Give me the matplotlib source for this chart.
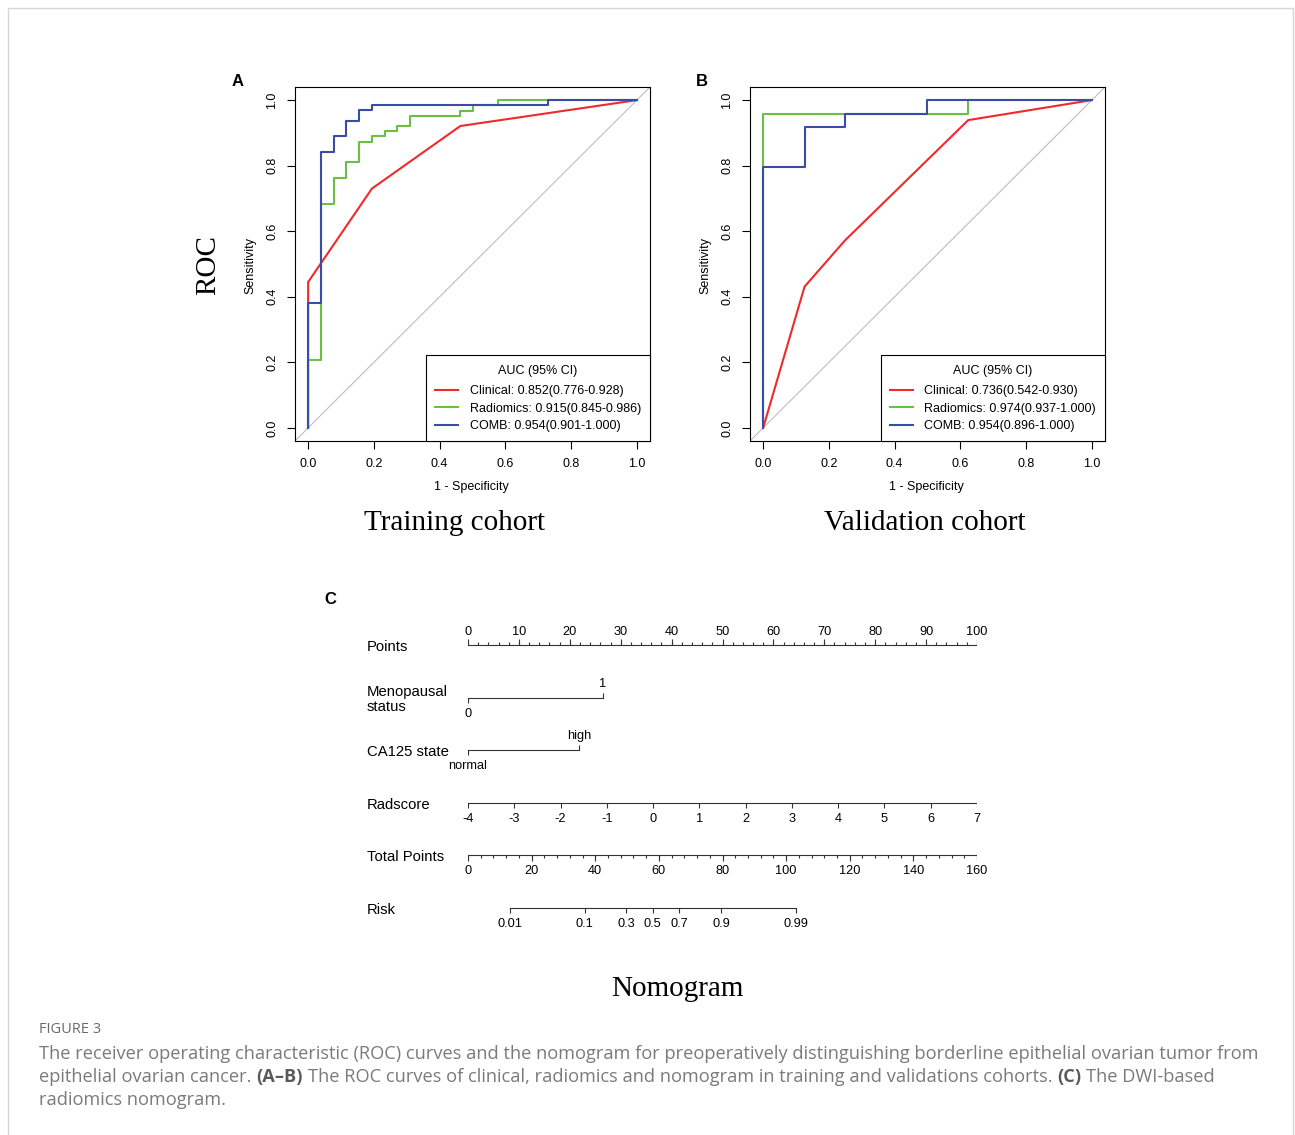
import matplotlib
matplotlib.use("Agg")
import matplotlib.pyplot as plt
import numpy as np
from matplotlib import transforms
from matplotlib.lines import Line2D
from matplotlib.patches import Rectangle

W, H = 1295, 1135
SANS = "Liberation Sans"
SERIF = "Liberation Serif"
CAP = "Open Sans"

# ── ROC data: 1 - specificity breakpoints and sensitivity levels ─────────────
train_clin_fpr = [0.0, 0.0, 0.194, 0.463, 1.0]
train_clin_tpr = [0.0, 0.445, 0.730, 0.921, 1.0]
train_rad_fpr = [0.0, 0.039, 0.078, 0.116, 0.155, 0.194, 0.233, 0.270, 0.309, 0.463, 0.501, 0.577, 1.0]
train_rad_tpr = [0.0, 0.207, 0.684, 0.761, 0.810, 0.872, 0.889, 0.905, 0.921, 0.952, 0.968, 0.984, 1.0]
train_comb_fpr = [0.0, 0.039, 0.078, 0.116, 0.155, 0.194, 0.731, 1.0]
train_comb_tpr = [0.0, 0.380, 0.841, 0.889, 0.937, 0.969, 0.984, 1.0]

val_clin_fpr = [0.0, 0.126, 0.249, 0.624, 1.0]
val_clin_tpr = [0.0, 0.431, 0.572, 0.939, 1.0]
val_rad_fpr = [0.0, 0.624, 1.0]
val_rad_tpr = [0.0, 0.958, 1.0]
val_comb_fpr = [0.0, 0.126, 0.249, 0.500, 1.0]
val_comb_tpr = [0.0, 0.797, 0.918, 0.958, 1.0]

train_auc = ["Clinical: 0.852(0.776-0.928)", "Radiomics: 0.915(0.845-0.986)",
             "COMB: 0.954(0.901-1.000)"]
val_auc = ["Clinical: 0.736(0.542-0.930)", "Radiomics: 0.974(0.937-1.000)",
           "COMB: 0.954(0.896-1.000)"]
roc_ticks = [0.0, 0.2, 0.4, 0.6, 0.8, 1.0]

# ── nomogram data ────────────────────────────────────────────────────────────
points_major = list(range(0, 101, 10))
points_minor = list(range(0, 101, 2))
meno_labels = ["0", "1"]
meno_points = [0.0, 26.5]
ca125_labels = ["normal", "high"]
ca125_points = [0.0, 21.8]
radscore_values = list(range(-4, 8))
total_major = list(range(0, 161, 20))
total_minor = list(range(0, 161, 4))
total_max = 160
risk_values = [0.01, 0.1, 0.3, 0.5, 0.7, 0.9, 0.99]
risk_tp50 = 58.1      # total points where risk = 0.5
risk_slope = 0.1023   # logit per total point

RED, GREEN, BLUE = "#f02a2a", "#6cbf45", "#3a4ca6"
INK = "#333333"

fig = plt.figure(figsize=(W / 100, H / 100), dpi=100)
fig.patch.set_facecolor("white")


def fx(px):
    return px / W


def fy(py):
    return 1 - py / H


# outer frame of the figure page
fig.add_artist(Rectangle((fx(8), fy(H + 20)), fx(1293 - 8), (H + 20 - 8) / H,
                         transform=fig.transFigure, fill=False,
                         edgecolor="#d6d6d6", lw=1.0))


# ── ROC panels ───────────────────────────────────────────────────────────────
def roc_panel(left_px, curves, labels, letter, letter_x, title, title_x, roc_label):
    ax = fig.add_axes([fx(left_px), fy(441), fx(355), 354 / H])
    ax.axline((0, 0), (1, 1), color="#bdbdbd", lw=0.8, zorder=1)
    for (xs, ys, col, style) in curves:
        ax.plot(xs, ys, color=col, lw=1.5, drawstyle=style, zorder=2)
    ax.set_xlim(-0.04, 1.04)
    ax.set_ylim(-0.04, 1.04)
    ax.set_xticks(roc_ticks)
    ax.set_yticks(roc_ticks)
    ax.set_xticklabels([f"{t:.1f}" for t in roc_ticks], fontfamily=SANS)
    ax.set_yticklabels([f"{t:.1f}" for t in roc_ticks], fontfamily=SANS,
                       rotation=90, va="center")
    ax.tick_params(direction="out", length=5.5, width=0.8, labelsize=9, pad=6.5)
    for sp in ax.spines.values():
        sp.set_linewidth(0.8)
    handles = [Line2D([], [], color=c, lw=1.5) for c in (RED, GREEN, BLUE)]
    leg = ax.legend(handles, labels, title="AUC (95% CI)", loc="lower right",
                    borderaxespad=0, fancybox=False, edgecolor="black",
                    framealpha=1, prop={"family": SANS, "size": 9},
                    handlelength=1.85, handletextpad=0.9, borderpad=0.73,
                    labelspacing=0.42)
    leg.get_title().set_fontfamily(SANS)
    leg.get_title().set_fontsize(9)
    leg.get_frame().set_linewidth(0.8)
    leg._legend_box.sep = 0.42 * 9 + 2.6   # a little more room under the title
    centre = left_px + 355 / 2
    fig.text(fx(centre - 1), fy(487), "1 - Specificity", ha="center", va="center",
             fontfamily=SANS, fontsize=9)
    fig.text(fx(left_px - 45), fy(265), "Sensitivity", ha="center", va="center",
             rotation=90, fontfamily=SANS, fontsize=9)
    fig.text(fx(letter_x), fy(82), letter, ha="center", va="center",
             fontfamily=SANS, fontweight="bold", fontsize=12)
    fig.text(fx(title_x), fy(523), title, ha="center", va="center",
             fontfamily=SERIF, fontsize=21)
    if roc_label:
        fig.text(fx(208), fy(265), "ROC", ha="center", va="center", rotation=90,
                 fontfamily=SERIF, fontsize=21)
    return ax


roc_panel(295,
          [(train_clin_fpr, train_clin_tpr, RED, "default"),
           (train_rad_fpr, train_rad_tpr, GREEN, "steps-pre"),
           (train_comb_fpr, train_comb_tpr, BLUE, "steps-pre")],
          train_auc, "A", 238, "Training cohort", 455, True)
roc_panel(750,
          [(val_clin_fpr, val_clin_tpr, RED, "default"),
           (val_rad_fpr, val_rad_tpr, GREEN, "steps-pre"),
           (val_comb_fpr, val_comb_tpr, BLUE, "steps-pre")],
          val_auc, "B", 702, "Validation cohort", 925, False)

# ── nomogram ─────────────────────────────────────────────────────────────────
ROW_PX = 52.6
top_px, bot_px = 645 - ROW_PX / 2, 908 + ROW_PX / 2
axn = fig.add_axes([fx(468), fy(bot_px), fx(977 - 468), (bot_px - top_px) / H])
axn.set_xlim(0, 100)
axn.set_ylim(5.5, -0.5)
axn.axis("off")


def r(px):
    return px / ROW_PX


lw = 0.8
lab = dict(fontfamily=SANS, fontsize=9.2, ha="center", va="center")
name_tr = transforms.blended_transform_factory(fig.transFigure, axn.transData)
names = ["Points", "Menopausal\nstatus", "CA125 state", "Radscore", "Total Points", "Risk"]
for i, nm in enumerate(names):
    axn.text(fx(367), i + r(2), nm, transform=name_tr,
             ha="left", va="center", fontfamily=SANS, fontsize=10.7, linespacing=1.15,
             clip_on=False)

# Points
axn.plot([0, 100], [0, 0], color=INK, lw=lw)
axn.vlines(points_minor, 0, -r(3), color=INK, lw=lw)
axn.vlines(points_major, 0, -r(6), color=INK, lw=lw)
for v in points_major:
    axn.text(v, -r(13), str(v), **lab)

# categorical rows
for row, pts, labels in [(1, meno_points, meno_labels), (2, ca125_points, ca125_labels)]:
    axn.plot(pts, [row, row], color=INK, lw=lw)
    axn.vlines(pts[0], row, row + r(5), color=INK, lw=lw)
    axn.vlines(pts[1], row, row - r(5), color=INK, lw=lw)
    axn.text(pts[0], row + r(16), labels[0], **lab)
    axn.text(pts[1], row - r(14), labels[1], **lab)

# Radscore
rad = np.array(radscore_values, dtype=float)
rad_pts = (rad - rad.min()) / (rad.max() - rad.min()) * 100
axn.plot([rad_pts[0], rad_pts[-1]], [3, 3], color=INK, lw=lw)
axn.vlines(rad_pts, 3, 3 + r(5), color=INK, lw=lw)
for v, p in zip(radscore_values, rad_pts):
    axn.text(p, 3 + r(16), str(v), **lab)

# Total points
tot_scale = 100 / total_max
axn.plot([0, 100], [4, 4], color=INK, lw=lw)
axn.vlines(np.array(total_minor) * tot_scale, 4, 4 + r(3), color=INK, lw=lw)
axn.vlines(np.array(total_major) * tot_scale, 4, 4 + r(6), color=INK, lw=lw)
for v in total_major:
    axn.text(v * tot_scale, 4 + r(16), str(v), **lab)

# Risk
rv = np.array(risk_values)
risk_tp = risk_tp50 + np.log(rv / (1 - rv)) / risk_slope
risk_pts = risk_tp * tot_scale
axn.plot([risk_pts[0], risk_pts[-1]], [5, 5], color=INK, lw=lw)
axn.vlines(risk_pts, 5, 5 + r(5), color=INK, lw=lw)
for v, p in zip(risk_values, risk_pts):
    axn.text(p, 5 + r(16), f"{v:g}", **lab)

fig.text(fx(330), fy(600), "C", ha="center", va="center", fontfamily=SANS,
         fontweight="bold", fontsize=12)
fig.text(fx(677), fy(989), "Nomogram", ha="center", va="center",
         fontfamily=SERIF, fontsize=21)

# ── caption ──────────────────────────────────────────────────────────────────
fig.canvas.draw()
rend = fig.canvas.get_renderer()
GREY, DARK = "#7a7a7a", "#5a5a5a"

line1 = ("The receiver operating characteristic (ROC) curves and the nomogram for "
         "preoperatively distinguishing borderline epithelial ovarian tumor from")
probe = fig.text(0, 0, line1, fontfamily=CAP, fontsize=12)
cap_size = 12 * (1255 - 39) / probe.get_window_extent(rend).width
probe.remove()


def seg_width(txt, bold):
    t = fig.text(0, 0, txt, fontfamily=CAP, fontsize=cap_size,
                 fontweight="bold" if bold else "normal")
    w = t.get_window_extent(rend).width
    t.remove()
    return w


space_w = seg_width("a a", False) - seg_width("aa", False)


def caption_line(y_px, segments):
    x = 39
    for txt, bold in segments:
        fig.text(fx(x), fy(y_px), txt, fontfamily=CAP, fontsize=cap_size,
                 fontweight="bold" if bold else "normal",
                 color=DARK if bold else GREY, va="baseline", ha="left")
        x += seg_width(txt, bold) + space_w


fig.text(fx(39), fy(1033), "FIGURE 3", fontfamily=CAP, fontsize=cap_size * 0.8,
         color="#6a6a6a", va="baseline", ha="left")
caption_line(1059, [(line1, False)])
caption_line(1082, [("epithelial ovarian cancer.", False), ("(A\u2013B)", True),
                    ("The ROC curves of clinical, radiomics and nomogram in training "
                     "and validations cohorts.", False), ("(C)", True),
                    ("The DWI-based", False)])
caption_line(1105, [("radiomics nomogram.", False)])

fig.savefig("out.png", dpi=100, facecolor="white")
plt.close(fig)
